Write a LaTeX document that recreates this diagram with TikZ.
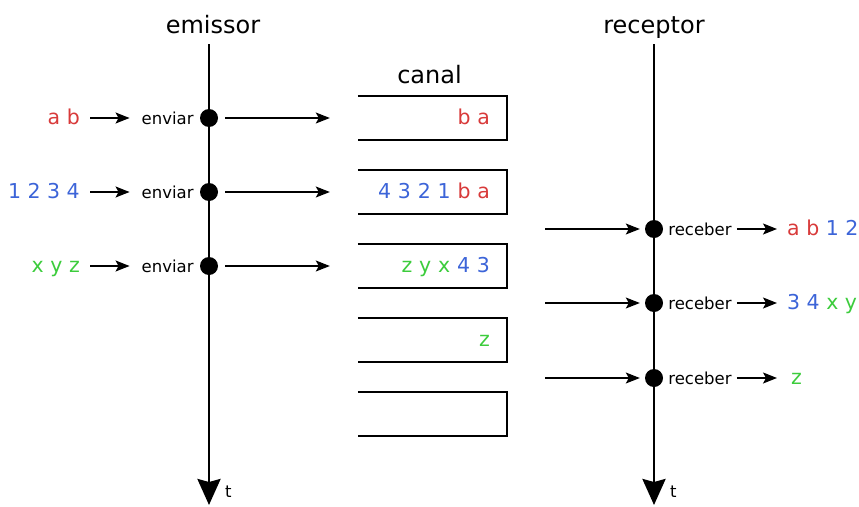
\documentclass[tikz,border=0pt]{standalone}
\usepackage{fontspec}
\setmainfont{DejaVu Sans}
\usetikzlibrary{arrows.meta,positioning}

\definecolor{msgred}{RGB}{216,58,58}
\definecolor{msgblue}{RGB}{60,100,216}
\definecolor{msggreen}{RGB}{60,204,60}
\newcommand{\cred}[1]{\textcolor{msgred}{#1}}
\newcommand{\cblue}[1]{\textcolor{msgblue}{#1}}
\newcommand{\cgreen}[1]{\textcolor{msggreen}{#1}}

\tikzset{
  timeline/.style={line width=2.8pt, -{Stealth[length=26pt,width=23pt,inset=3pt]}},
  event/.style={circle, fill=black, minimum size=18pt, inner sep=0pt},
  msg/.style={line width=1.2pt, -{Stealth[length=14pt,width=11pt,inset=3pt]}},
  title/.style={font=\fontsize{24}{28}\selectfont},
  op/.style={font=\fontsize{16.5}{19}\selectfont, inner sep=0pt, text height=12pt, text depth=0pt},
  data/.style={font=\fontsize{20.5}{24}\selectfont, inner sep=0pt, text height=13pt, text depth=0pt},
  slot/.style={data, minimum height=44pt, inner xsep=17pt, text width=115pt, align=right},
  slotline/.style={line width=1.8pt},
}

\begin{document}
\begin{tikzpicture}[x=1pt,y=-1pt]
\useasboundingbox (0,0) rectangle (859,506);

% emissor
\node[title, anchor=base] (emtitle) at (213,33) {emissor};
\coordinate (emtop) at (209,44);
\coordinate (embot) at (209,505);
\draw[timeline] (emtop) -- (embot);
\node[op, anchor=base west] (emt) at (225,497) {t};

\node[event] (e1) at (209,118) {};
\node[event] (e2) at (209,192) {};
\node[event] (e3) at (209,266) {};

\node[op, left=6pt of e1] (env1) {enviar};
\node[op, left=6pt of e2] (env2) {enviar};
\node[op, left=6pt of e3] (env3) {enviar};

\node[data, anchor=east] (in1) at (80,118) {\cred{a b}};
\node[data, anchor=east] (in2) at (80,192) {\cblue{1 2 3 4}};
\node[data, anchor=east] (in3) at (80,266) {\cgreen{x y z}};

\draw[msg, shorten <=10pt, shorten >=12pt] (in1) -- (env1);
\draw[msg, shorten <=10pt, shorten >=12pt] (in2) -- (env2);
\draw[msg, shorten <=10pt, shorten >=12pt] (in3) -- (env3);

% canal
\node[title, anchor=base] (chtitle) at (429.5,83) {canal};
\foreach \i/\txt in {1/{\cred{b a}},
                     2/{\cblue{4 3 2 1} \cred{b a}},
                     3/{\cgreen{z y x} \cblue{4 3}},
                     4/{\cgreen{z}},
                     5/{}}{
  \node[slot] (c\i) at (432.5,{44+74*\i}) {\txt};
  \draw[slotline] (c\i.north west) -- (c\i.north east)
    -- (c\i.south east) -- (c\i.south west);
}

\draw[msg, shorten <=7pt, shorten >=28pt] (e1) -- (c1);
\draw[msg, shorten <=7pt, shorten >=28pt] (e2) -- (c2);
\draw[msg, shorten <=7pt, shorten >=28pt] (e3) -- (c3);

% receptor
\node[title, anchor=base] (rctitle) at (654,33) {receptor};
\coordinate (rctop) at (654,44);
\coordinate (rcbot) at (654,505);
\draw[timeline] (rctop) -- (rcbot);
\node[op, anchor=base west] (rct) at (670,497) {t};

\node[event] (r1) at (654,229) {};
\node[event] (r2) at (654,303) {};
\node[event] (r3) at (654,378) {};

\coordinate (src1) at (545,229);
\coordinate (src2) at (545,303);
\coordinate (src3) at (545,378);
\draw[msg, shorten >=5pt] (src1) -- (r1);
\draw[msg, shorten >=5pt] (src2) -- (r2);
\draw[msg, shorten >=5pt] (src3) -- (r3);

\node[op, right=5pt of r1] (rcv1) {receber};
\node[op, right=5pt of r2] (rcv2) {receber};
\node[op, right=5pt of r3] (rcv3) {receber};

\node[data, anchor=west] (out1) at (787,229) {\cred{a b} \cblue{1 2}};
\node[data, anchor=west] (out2) at (787,303) {\cblue{3 4} \cgreen{x y}};
\node[data, anchor=west] (out3) at (791,378) {\cgreen{z}};

\draw[msg, shorten <=5pt, shorten >=10pt] (rcv1) -- (out1);
\draw[msg, shorten <=5pt, shorten >=10pt] (rcv2) -- (out2);
\draw[msg, shorten <=5pt, shorten >=14pt] (rcv3) -- (out3);
\end{tikzpicture}
\end{document}
